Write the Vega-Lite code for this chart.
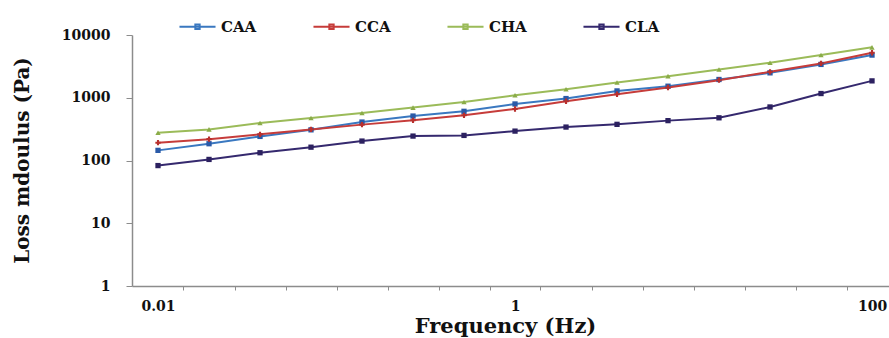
{
  "$schema": "https://vega.github.io/schema/vega-lite/v6.json",
  "width": 757,
  "height": 251,
  "autosize": {"type": "none"},
  "padding": {"left": 132, "top": 35, "right": 0, "bottom": 52},
  "background": "white",
  "config": {
    "view": {"stroke": null},
    "font": "DejaVu Serif",
    "axis": {"grid": false, "domainColor": "#8c8c8c", "tickColor": "#8c8c8c", "domainWidth": 1.5, "labelFont": "DejaVu Serif", "labelFontWeight": "bold", "labelFontSize": 14, "labelColor": "#111", "titleFont": "DejaVu Serif", "titleFontWeight": "bold", "titleColor": "#111"}
  },
  "data": {
    "values": [
      {"f": 0.01, "s": "CAA", "v": 145}, {"f": 0.01931, "s": "CAA", "v": 185}, {"f": 0.03728, "s": "CAA", "v": 242}, {"f": 0.07197, "s": "CAA", "v": 308}, {"f": 0.1389, "s": "CAA", "v": 410}, {"f": 0.2683, "s": "CAA", "v": 511}, {"f": 0.5179, "s": "CAA", "v": 608}, {"f": 1, "s": "CAA", "v": 796}, {"f": 1.931, "s": "CAA", "v": 971}, {"f": 3.728, "s": "CAA", "v": 1285}, {"f": 7.197, "s": "CAA", "v": 1528}, {"f": 13.89, "s": "CAA", "v": 1955}, {"f": 26.83, "s": "CAA", "v": 2493}, {"f": 51.79, "s": "CAA", "v": 3398}, {"f": 100, "s": "CAA", "v": 4786},
      {"f": 0.01, "s": "CCA", "v": 192}, {"f": 0.01931, "s": "CCA", "v": 219}, {"f": 0.03728, "s": "CCA", "v": 261}, {"f": 0.07197, "s": "CCA", "v": 313}, {"f": 0.1389, "s": "CCA", "v": 373}, {"f": 0.2683, "s": "CCA", "v": 437}, {"f": 0.5179, "s": "CCA", "v": 525}, {"f": 1, "s": "CCA", "v": 662}, {"f": 1.931, "s": "CCA", "v": 879}, {"f": 3.728, "s": "CCA", "v": 1137}, {"f": 7.197, "s": "CCA", "v": 1456}, {"f": 13.89, "s": "CCA", "v": 1905}, {"f": 26.83, "s": "CCA", "v": 2587}, {"f": 51.79, "s": "CCA", "v": 3525}, {"f": 100, "s": "CCA", "v": 5212},
      {"f": 0.01, "s": "CHA", "v": 277}, {"f": 0.01931, "s": "CHA", "v": 313}, {"f": 0.03728, "s": "CHA", "v": 395}, {"f": 0.07197, "s": "CHA", "v": 475}, {"f": 0.1389, "s": "CHA", "v": 571}, {"f": 0.2683, "s": "CHA", "v": 697}, {"f": 0.5179, "s": "CHA", "v": 857}, {"f": 1, "s": "CHA", "v": 1096}, {"f": 1.931, "s": "CHA", "v": 1368}, {"f": 3.728, "s": "CHA", "v": 1750}, {"f": 7.197, "s": "CHA", "v": 2208}, {"f": 13.89, "s": "CHA", "v": 2826}, {"f": 26.83, "s": "CHA", "v": 3603}, {"f": 51.79, "s": "CHA", "v": 4786}, {"f": 100, "s": "CHA", "v": 6357},
      {"f": 0.01, "s": "CLA", "v": 83}, {"f": 0.01931, "s": "CLA", "v": 104}, {"f": 0.03728, "s": "CLA", "v": 133}, {"f": 0.07197, "s": "CLA", "v": 163}, {"f": 0.1389, "s": "CLA", "v": 204}, {"f": 0.2683, "s": "CLA", "v": 245}, {"f": 0.5179, "s": "CLA", "v": 251}, {"f": 1, "s": "CLA", "v": 294}, {"f": 1.931, "s": "CLA", "v": 341}, {"f": 3.728, "s": "CLA", "v": 377}, {"f": 7.197, "s": "CLA", "v": 432}, {"f": 13.89, "s": "CLA", "v": 479}, {"f": 26.83, "s": "CLA", "v": 713}, {"f": 51.79, "s": "CLA", "v": 1167}, {"f": 100, "s": "CLA", "v": 1857}
    ]
  },
  "layer": [
    {
      "mark": {"type": "line", "strokeWidth": 2},
      "encoding": {
        "x": {"field": "f", "type": "quantitative", "scale": {"type": "log", "domain": [0.00715, 124.5], "nice": false},
          "axis": {"values": [0.01, 1, 100], "format": "~g", "ticks": false, "labelPadding": 13, "labelFlush": false, "labelOverlap": false, "title": "Frequency (Hz)", "titleFontSize": 21, "titleBaseline": "middle", "titleX": 373, "titleY": 40}},
        "y": {"field": "v", "type": "quantitative", "scale": {"type": "log", "domain": [1, 10000], "nice": false},
          "axis": {"values": [1, 10, 100, 1000, 10000], "format": "d", "tickSize": 6, "labelPadding": 16, "title": "Loss mdoulus (Pa)", "titleFontSize": 20, "titleAngle": -90, "titleBaseline": "middle", "titleAlign": "center", "titleX": -110, "titleY": 125}},
        "color": {"field": "s", "type": "nominal", "title": null,
          "scale": {"domain": ["CAA", "CCA", "CHA", "CLA"], "range": ["#3a78c0", "#c63c3a", "#9bbb59", "#35296e"]},
          "legend": {"orient": "none", "legendX": 46, "legendY": -28, "direction": "horizontal", "columns": 4, "columnPadding": 52, "symbolType": "M-1,0H1M-0.12,-0.12H0.12V0.12H-0.12Z", "symbolSize": 1300, "symbolStrokeWidth": 2, "labelFont": "DejaVu Serif", "labelFontWeight": "bold", "labelFontSize": 15, "labelColor": "#111", "labelOffset": 4}}
      }
    },
    {
      "mark": {"type": "point", "filled": true, "size": 28, "opacity": 1, "strokeWidth": 0},
      "encoding": {
        "x": {"field": "f", "type": "quantitative",
          "axis": {"values": [0.01389, 0.02683, 0.05179, 0.1, 0.1931, 0.3728, 0.7197, 1.389, 2.683, 5.179, 10, 19.31, 37.28, 71.97], "labels": false, "domain": false, "tickSize": 4, "orient": "bottom", "title": null}},
        "y": {"field": "v", "type": "quantitative"},
        "fill": {"field": "s", "type": "nominal", "scale": {"domain": ["CAA", "CCA", "CHA", "CLA"], "range": ["#2a5aa8", "#b8302e", "#8aac48", "#2c2160"]}, "legend": null},
        "shape": {"field": "s", "type": "nominal", "scale": {"domain": ["CAA", "CCA", "CHA", "CLA"], "range": ["square", "cross", "triangle-up", "square"]}, "legend": null}
      }
    }
  ],
  "resolve": {"axis": {"x": "independent"}, "scale": {"fill": "independent", "shape": "independent"}}
}
